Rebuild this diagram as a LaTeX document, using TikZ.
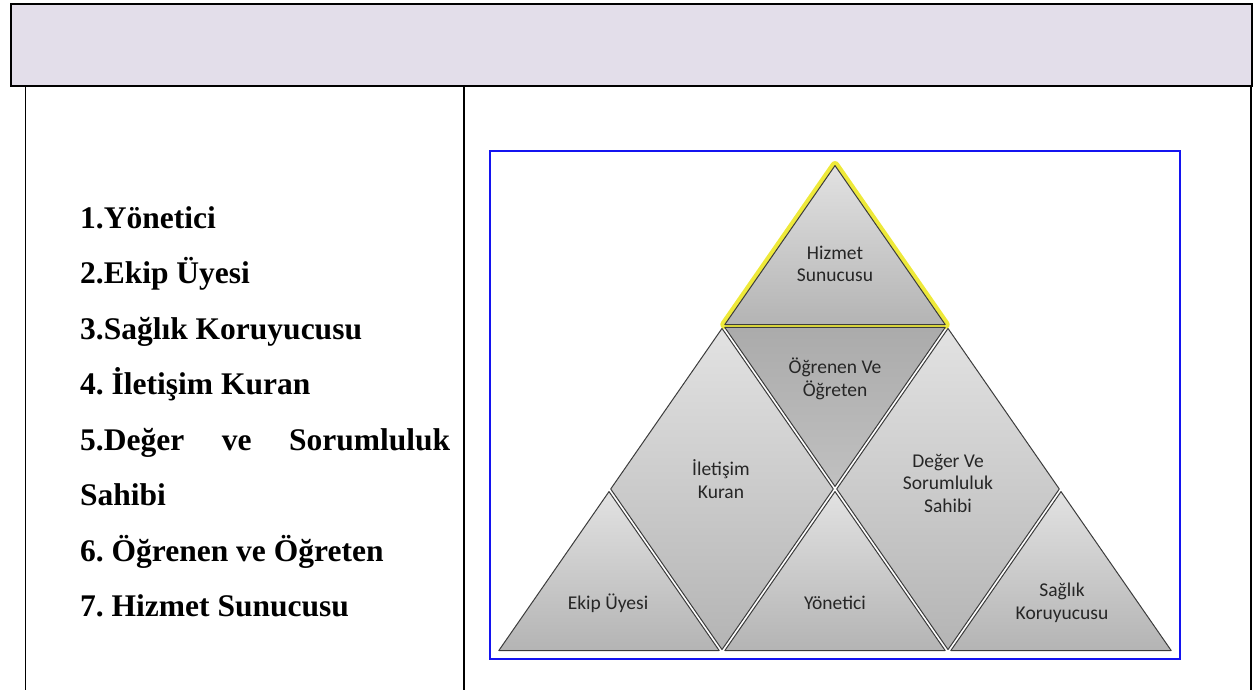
\documentclass[tikz,border=0pt]{standalone}
\usepackage{fontspec}
\setmainfont{Liberation Serif}
\newfontfamily\trifont{Carlito}
\definecolor{headerfill}{HTML}{E3DEEA}
\definecolor{glowyellow}{HTML}{EEE93A}
\definecolor{frameblue}{HTML}{1414F0}
\definecolor{pieceline}{HTML}{3C3C3C}
\definecolor{lightgray}{HTML}{E2E2E2}
\definecolor{midgray}{HTML}{B4B4B4}
\begin{document}
\frenchspacing
\begin{tikzpicture}[x=1pt,y=-1pt,
  tableline/.style={line width=1.5pt,black},
  piece/.style={draw=pieceline,line width=1pt,line join=round,top color=lightgray,bottom color=midgray},
  darkpiece/.style={piece,top color=midgray!95!black,bottom color=lightgray!85!black},
  glow/.style={draw=glowyellow,line width=9pt,line join=round},
  tritext/.style={font=\trifont\fontsize{19.5}{22.5}\selectfont,align=center,text=black!85,inner sep=0pt},
  listtext/.style={font=\bfseries\fontsize{31.5}{38}\selectfont,anchor=base west,inner sep=0pt}]
\useasboundingbox (0,0) rectangle (1255,690);
% table
\draw[fill=headerfill,line width=1.7pt] (11,4) rectangle (1252,86);
\draw[tableline] (25.7,86) -- (25.7,690);
\draw[tableline] (464,86) -- (464,690);
\draw[tableline] (1251,86) -- (1251,690);
% left list
\node[listtext] (l1) at (80,228) {1.Yönetici};
\node[listtext] (l2) at (80,283.5) {2.Ekip Üyesi};
\node[listtext] (l3) at (80,339) {3.Sağlık Koruyucusu};
\node[listtext] (l4) at (80,394.5) {4. İletişim Kuran};
\node[listtext] (l5) at (80,450) {\makebox[370pt][s]{5.Değer\hfil ve\hfil Sorumluluk}};
\node[listtext] (l5b) at (80,505.5) {Sahibi};
\node[listtext] (l6) at (80,561) {6. Öğrenen ve Öğreten};
\node[listtext] (l7) at (80,616.5) {7. Hizmet Sunucusu};
% blue frame
\draw[frameblue,line width=1.6pt] (490,151) rectangle (1180,659);
% pieces
% Hizmet Sunucusu (top)
\begin{scope}[shift={(835,266.8)},scale=0.975]
  \draw[glow] (0,-103.8) -- (-113,59.2) -- (113,59.2) -- cycle;
  \draw[piece] (0,-103.8) -- (-113,59.2) -- (113,59.2) -- cycle;
\end{scope}
% Ogrenen Ve Ogreten (inverted)
\begin{scope}[shift={(835,385.2)},scale=0.975]
  \draw[darkpiece] (-113,-59.2) -- (113,-59.2) -- (0,103.8) -- cycle;
\end{scope}
% Iletisim Kuran (diamond)
\begin{scope}[shift={(722,489)},scale=0.985]
  \draw[piece] (0,-163) -- (-113,0) -- (0,163) -- (113,0) -- cycle;
\end{scope}
% Deger Ve Sorumluluk Sahibi (diamond)
\begin{scope}[shift={(948,489)},scale=0.985]
  \draw[piece] (0,-163) -- (-113,0) -- (0,163) -- (113,0) -- cycle;
\end{scope}
% Ekip Uyesi
\begin{scope}[shift={(609,592.8)},scale=0.975]
  \draw[piece] (0,-103.8) -- (-113,59.2) -- (113,59.2) -- cycle;
\end{scope}
% Yonetici
\begin{scope}[shift={(835,592.8)},scale=0.975]
  \draw[piece] (0,-103.8) -- (-113,59.2) -- (113,59.2) -- cycle;
\end{scope}
% Saglik Koruyucusu
\begin{scope}[shift={(1061,592.8)},scale=0.975]
  \draw[piece] (0,-103.8) -- (-113,59.2) -- (113,59.2) -- cycle;
\end{scope}
% labels
\node[tritext] (hs) at (835,264) {Hizmet\\Sunucusu};
\node[tritext] (oo) at (835,379) {Öğrenen Ve\\Öğreten};
\node[tritext] (ik) at (721,479) {İletişim\\Kuran};
\node[tritext] (ds) at (948,483) {Değer Ve\\Sorumluluk\\Sahibi};
\node[tritext] (eu) at (608,603) {Ekip Üyesi};
\node[tritext] (yo) at (835,603) {Yönetici};
\node[tritext] (sk) at (1062,603) {Sağlık\\Koruyucusu};
\end{tikzpicture}
\end{document}
